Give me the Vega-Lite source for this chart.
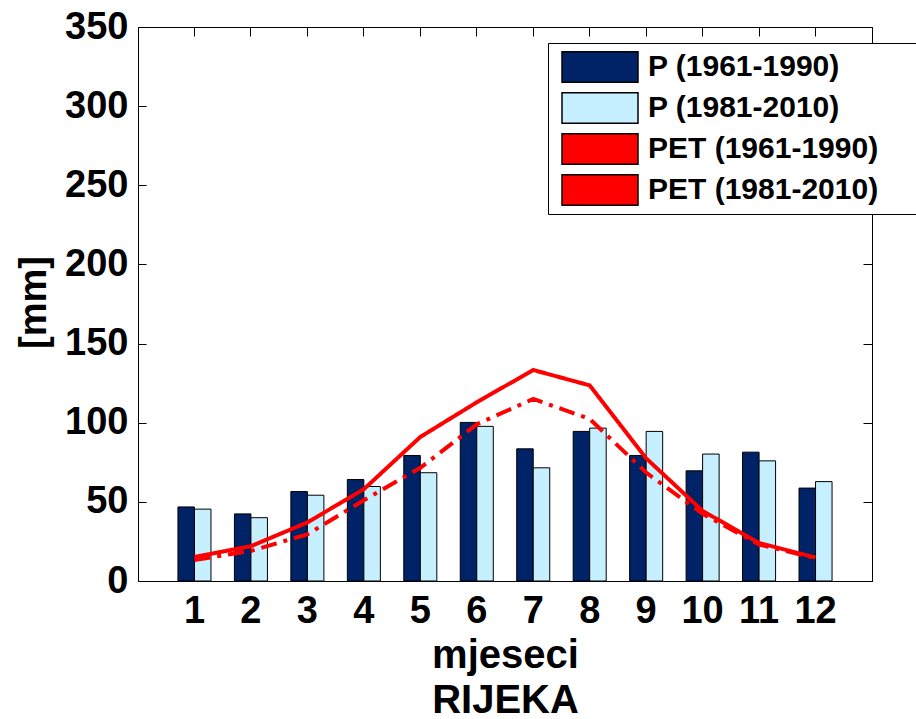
{
  "$schema": "https://vega.github.io/schema/vega-lite/v6.json",
  "width": 734,
  "height": 554,
  "autosize": {"type": "none"},
  "padding": {"left": 138, "top": 27, "right": 44, "bottom": 138},
  "background": "white",
  "config": {
    "view": {"stroke": "black", "strokeWidth": 1},
    "font": "Liberation Sans",
    "axis": {
      "grid": false,
      "domainColor": "black",
      "tickColor": "black",
      "labelColor": "black",
      "titleColor": "black",
      "labelFont": "Liberation Sans",
      "labelFontWeight": "bold",
      "labelFontSize": 38,
      "titleFont": "Liberation Sans",
      "titleFontWeight": "bold"
    }
  },
  "datasets": {
    "precip": [
      {"month": 1, "series": "P (1961-1990)", "value": 46.8},
      {"month": 2, "series": "P (1961-1990)", "value": 42.4},
      {"month": 3, "series": "P (1961-1990)", "value": 56.5},
      {"month": 4, "series": "P (1961-1990)", "value": 64.1},
      {"month": 5, "series": "P (1961-1990)", "value": 79.3},
      {"month": 6, "series": "P (1961-1990)", "value": 100.2},
      {"month": 7, "series": "P (1961-1990)", "value": 83.5},
      {"month": 8, "series": "P (1961-1990)", "value": 94.5},
      {"month": 9, "series": "P (1961-1990)", "value": 79.3},
      {"month": 10, "series": "P (1961-1990)", "value": 69.6},
      {"month": 11, "series": "P (1961-1990)", "value": 81.4},
      {"month": 12, "series": "P (1961-1990)", "value": 58.7},
      {"month": 1, "series": "P (1981-2010)", "value": 45.4},
      {"month": 2, "series": "P (1981-2010)", "value": 40.0},
      {"month": 3, "series": "P (1981-2010)", "value": 54.2},
      {"month": 4, "series": "P (1981-2010)", "value": 59.7},
      {"month": 5, "series": "P (1981-2010)", "value": 68.4},
      {"month": 6, "series": "P (1981-2010)", "value": 97.7},
      {"month": 7, "series": "P (1981-2010)", "value": 71.5},
      {"month": 8, "series": "P (1981-2010)", "value": 96.6},
      {"month": 9, "series": "P (1981-2010)", "value": 94.5},
      {"month": 10, "series": "P (1981-2010)", "value": 80.2},
      {"month": 11, "series": "P (1981-2010)", "value": 75.9},
      {"month": 12, "series": "P (1981-2010)", "value": 62.8}
    ],
    "pet": [
      {"month": 1, "series": "PET (1961-1990)", "value": 13.3},
      {"month": 2, "series": "PET (1961-1990)", "value": 19},
      {"month": 3, "series": "PET (1961-1990)", "value": 29.5},
      {"month": 4, "series": "PET (1961-1990)", "value": 51},
      {"month": 5, "series": "PET (1961-1990)", "value": 71.5},
      {"month": 6, "series": "PET (1961-1990)", "value": 99},
      {"month": 7, "series": "PET (1961-1990)", "value": 115},
      {"month": 8, "series": "PET (1961-1990)", "value": 102.4},
      {"month": 9, "series": "PET (1961-1990)", "value": 68.5},
      {"month": 10, "series": "PET (1961-1990)", "value": 42.4},
      {"month": 11, "series": "PET (1961-1990)", "value": 23},
      {"month": 12, "series": "PET (1961-1990)", "value": 14.5},
      {"month": 1, "series": "PET (1981-2010)", "value": 15.2},
      {"month": 2, "series": "PET (1981-2010)", "value": 22},
      {"month": 3, "series": "PET (1981-2010)", "value": 37},
      {"month": 4, "series": "PET (1981-2010)", "value": 58},
      {"month": 5, "series": "PET (1981-2010)", "value": 91},
      {"month": 6, "series": "PET (1981-2010)", "value": 112.9},
      {"month": 7, "series": "PET (1981-2010)", "value": 133.3},
      {"month": 8, "series": "PET (1981-2010)", "value": 123.6},
      {"month": 9, "series": "PET (1981-2010)", "value": 77.5},
      {"month": 10, "series": "PET (1981-2010)", "value": 44.3},
      {"month": 11, "series": "PET (1981-2010)", "value": 24},
      {"month": 12, "series": "PET (1981-2010)", "value": 14.8}
    ]
  },
  "layer": [
    {
      "data": {"name": "precip"},
      "mark": {"type": "bar", "stroke": "black", "strokeWidth": 1},
      "encoding": {
        "x": {
          "field": "month",
          "type": "ordinal",
          "scale": {"paddingInner": 0.415, "paddingOuter": 0.7075},
          "axis": {
            "orient": "bottom",
            "ticks": false,
            "labelPadding": 11,
            "labelAngle": 0,
            "title": ["mjeseci", "RIJEKA"],
            "titleFontSize": 40,
            "titleBaseline": "alphabetic",
            "titleLineHeight": 45,
            "titleX": 367,
            "titleY": 86,
            "titleAlign": "center"
          }
        },
        "xOffset": {
          "field": "series",
          "type": "nominal",
          "sort": ["P (1961-1990)", "P (1981-2010)"],
          "scale": {"paddingInner": 0, "paddingOuter": 0}
        },
        "y": {
          "field": "value",
          "type": "quantitative",
          "scale": {"domain": [0, 350], "nice": false},
          "axis": {
            "orient": "left",
            "values": [0, 50, 100, 150, 200, 250, 300, 350],
            "tickSize": -8,
            "labelPadding": 18,
            "title": "[mm]",
            "titleFontSize": 38,
            "titleAngle": -90,
            "titleBaseline": "alphabetic",
            "titleAlign": "center",
            "titleX": -93,
            "titleY": 275
          }
        },
        "color": {
          "field": "series",
          "type": "nominal",
          "scale": {
            "domain": ["P (1961-1990)", "P (1981-2010)", "PET (1961-1990)", "PET (1981-2010)"],
            "range": ["#002266", "#c6f0ff", "#ff0000", "#ff0000"]
          },
          "legend": {
            "orient": "none",
            "legendX": 410,
            "legendY": 16,
            "title": null,
            "padding": 8,
            "fillColor": "white",
            "strokeColor": "black",
            "symbolSize": 5776,
            "clipHeight": 32,
            "rowPadding": 9,
            "symbolOffset": 5,
            "labelOffset": 9,
            "labelFont": "Liberation Sans",
            "labelFontWeight": "bold",
            "labelFontSize": 30,
            "labelColor": "black",
            "labelLimit": 600,
            "labelExpr": "datum.label + '\u00a0\u00a0\u00a0\u00a0\u200b'",
            "symbolType": "M-1,-0.4H1V0.4H-1Z"
          }
        }
      }
    },
    {
      "data": {"name": "pet"},
      "mark": {"type": "line", "strokeWidth": 4, "color": "#ff0000"},
      "encoding": {
        "x": {
          "field": "month",
          "type": "ordinal",
          "axis": {"orient": "top", "labels": false, "title": null, "domain": false, "tickSize": -9}
        },
        "y": {
          "field": "value",
          "type": "quantitative",
          "axis": {
            "orient": "right",
            "labels": false,
            "title": null,
            "domain": false,
            "tickSize": -9,
            "values": [0, 50, 100, 150, 200, 250, 300, 350]
          }
        },
        "detail": {"field": "series", "type": "nominal"},
        "strokeDash": {
          "field": "series",
          "type": "nominal",
          "scale": {"domain": ["PET (1961-1990)", "PET (1981-2010)"], "range": [[16, 7, 4, 7], [1, 0]]},
          "legend": null
        }
      }
    }
  ],
  "resolve": {"axis": {"x": "independent", "y": "independent"}}
}
